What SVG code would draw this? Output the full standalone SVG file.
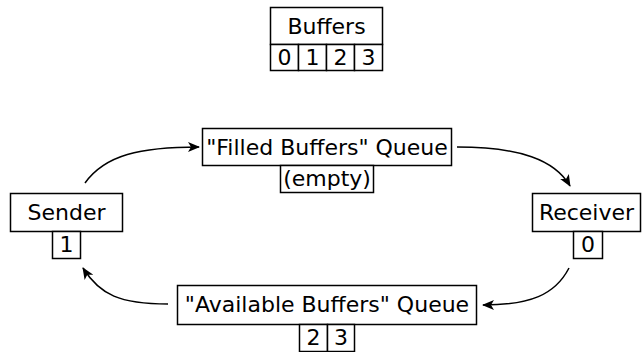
<svg xmlns="http://www.w3.org/2000/svg" width="642" height="352" viewBox="0 0 642 352">
<defs>
<marker id="ah" viewBox="0 0 12 10" refX="11" refY="5" markerWidth="12" markerHeight="10" markerUnits="userSpaceOnUse" orient="auto">
<path d="M0,0 L12,5 L0,10 L3,5 z" fill="#000"/>
</marker>
<style>
.b{fill:#fff;stroke:#000;stroke-width:1.5}
text{font-family:"DejaVu Sans",sans-serif;font-size:22px;fill:#000;text-anchor:middle}
.c path{fill:none;stroke:#000;stroke-width:1.5}
</style>
</defs>
<rect width="642" height="352" fill="#fff"/>
<g id="buffers">
<rect class="b" x="270.5" y="7.5" width="112" height="37"/>
<text x="326.5" y="34">Buffers</text>
<rect class="b" x="270.5" y="44.5" width="28" height="26"/>
<rect class="b" x="298.5" y="44.5" width="28" height="26"/>
<rect class="b" x="326.5" y="44.5" width="28" height="26"/>
<rect class="b" x="354.5" y="44.5" width="28" height="26"/>
<text x="284.5" y="65">0</text>
<text x="312.5" y="65">1</text>
<text x="340.5" y="65">2</text>
<text x="368.5" y="65">3</text>
</g>
<g id="filled">
<rect class="b" x="202.5" y="128.5" width="249" height="37"/>
<text x="327" y="155">"Filled Buffers" Queue</text>
<rect class="b" x="280.5" y="165.5" width="93" height="27"/>
<text x="327" y="186">(empty)</text>
</g>
<g id="sender">
<rect class="b" x="10.5" y="193.5" width="112" height="38"/>
<text x="66.5" y="220">Sender</text>
<rect class="b" x="52.5" y="231.5" width="28" height="27"/>
<text x="66.5" y="252">1</text>
</g>
<g id="receiver">
<rect class="b" x="532.5" y="193.5" width="108" height="38"/>
<text x="586.5" y="220">Receiver</text>
<rect class="b" x="573.5" y="231.5" width="29" height="27"/>
<text x="588" y="252">0</text>
</g>
<g id="available">
<rect class="b" x="177.5" y="285.5" width="299" height="39"/>
<text x="327" y="312">"Available Buffers" Queue</text>
<rect class="b" x="299.5" y="324.5" width="28" height="27"/>
<rect class="b" x="327.5" y="324.5" width="27" height="27"/>
<text x="313.5" y="345">2</text>
<text x="341" y="345">3</text>
</g>
<g class="c" id="connectors">
<path d="M85,183 C105,155 140,147 199,147" marker-end="url(#ah)"/>
<path d="M457,147 C520,147 555,160 570,186" marker-end="url(#ah)"/>
<path d="M569,268 C555,295 530,305 483,305" marker-end="url(#ah)"/>
<path d="M168,304 C120,304 100,295 83,268" marker-end="url(#ah)"/>
</g>
</svg>
